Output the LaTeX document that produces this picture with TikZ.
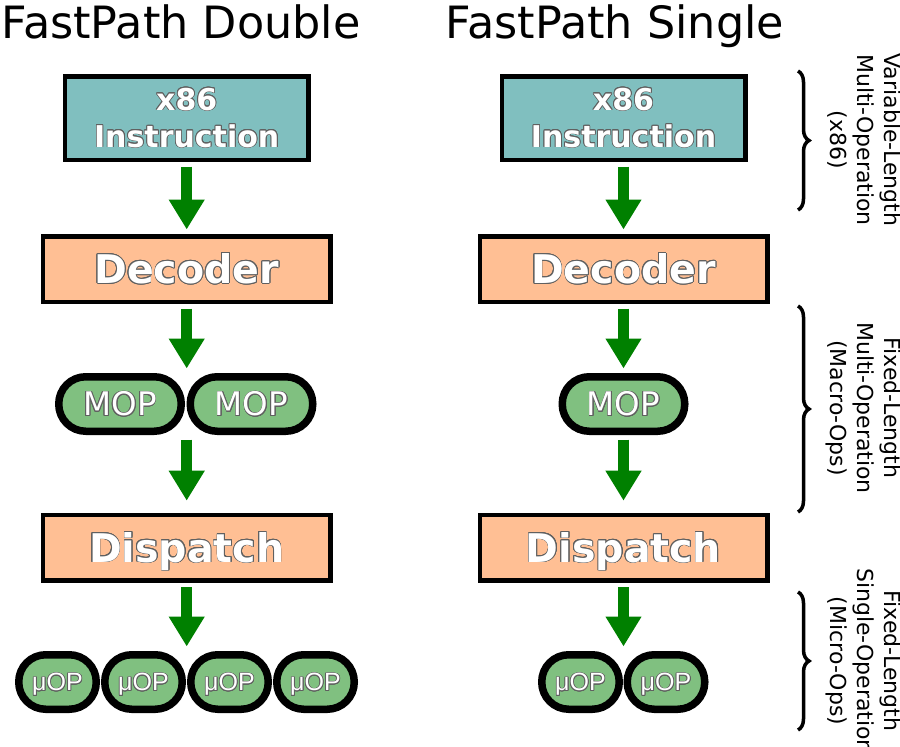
\documentclass[tikz,border=0pt]{standalone}
\usepackage{fontspec}
\setmainfont{DejaVu Sans}
\newfontfamily\libsans{Liberation Sans}
\usepackage[copies]{contour}
\contourlength{0.8pt}
\usetikzlibrary{arrows.meta,decorations.pathreplacing}
\definecolor{tealfill}{HTML}{80BFBF}
\definecolor{peachfill}{HTML}{FFBF94}
\definecolor{mopgreen}{HTML}{80C080}
\definecolor{arrgreen}{HTML}{008000}
\definecolor{outlinegray}{HTML}{606060}
\newcommand{\outl}[1]{\contour{outlinegray}{#1}}
\begin{document}
\begin{tikzpicture}[x=1pt,y=-1pt,
  instbox/.style={draw=black,line width=4.5pt,fill=tealfill,minimum width=243.5pt,minimum height=83.5pt,inner sep=0pt,text=white,font=\bfseries\fontsize{30}{37}\selectfont,align=center},
  stagebox/.style={draw=black,line width=4.5pt,fill=peachfill,minimum width=287.5pt,minimum height=65.5pt,inner sep=0pt,text=white,font=\bfseries\fontsize{39.5}{46}\selectfont,text height=28.8pt,text depth=0pt},
  mopbox/.style={draw=black,line width=7.5pt,fill=mopgreen,rounded corners=27pt,minimum width=122.5pt,minimum height=54.5pt,inner sep=0pt,text=white,font=\fontsize{32.5}{38}\selectfont,text height=23.7pt,text depth=0pt},
  uopbox/.style={draw=black,line width=7.5pt,fill=mopgreen,rounded corners=27pt,minimum width=77.5pt,minimum height=54.5pt,inner sep=0pt,text=white,font=\libsans\fontsize{25}{30}\selectfont,text height=17.9pt,text depth=0pt},
  flow/.style={draw=arrgreen,line width=11pt,-{Triangle[width=34pt,length=30pt]},shorten <=4.5pt,shorten >=4.5pt},
  title/.style={font=\fontsize{44.5}{52}\selectfont,anchor=base,inner sep=0pt},
  sidelabel/.style={font=\fontsize{22}{27}\selectfont,align=center,rotate=-90,inner sep=0pt},
  sidebrace/.style={draw=black,line width=3.5pt,decorate,decoration={brace,amplitude=11pt}}
]
\useasboundingbox (0,0) rectangle (900,747);

% titles
\node[title] (tL) at (181,38) {FastPath Double};
\node[title] (tR) at (615,38) {FastPath Single};

% left column
\node[instbox] (instL) at (186.7,118) {\outl{x86}\\\outl{Instruction}};
\node[stagebox] (decL) at (186.7,269) {\outl{Decoder}};
\node[mopbox] (mopL1) at (120,404) {\outl{MOP}};
\node[mopbox] (mopL2) at (251.5,404) {\outl{MOP}};
\node[stagebox] (dspL) at (186.7,547.7) {\outl{Dispatch}};
\node[uopbox] (uL1) at (57.5,682) {\outl{μOP}};
\node[uopbox] (uL2) at (143.5,682) {\outl{μOP}};
\node[uopbox] (uL3) at (229.5,682) {\outl{μOP}};
\node[uopbox] (uL4) at (315.5,682) {\outl{μOP}};

% right column
\node[instbox] (instR) at (623.5,118) {\outl{x86}\\\outl{Instruction}};
\node[stagebox] (decR) at (623.5,269) {\outl{Decoder}};
\node[mopbox] (mopR) at (623.5,404) {\outl{MOP}};
\node[stagebox] (dspR) at (623.5,547.7) {\outl{Dispatch}};
\node[uopbox] (uR1) at (580.5,682) {\outl{μOP}};
\node[uopbox] (uR2) at (666,682) {\outl{μOP}};

% arrows left
\draw[flow] (instL.south) -- (decL.north);
\draw[flow] (decL.south) -- (decL.south |- mopL1.north);
\draw[flow,shorten >=12pt] (dspL.north |- mopL1.south) -- (dspL.north);
\draw[flow] (dspL.south) -- (dspL.south |- uL2.north);

% arrows right
\draw[flow] (instR.south) -- (decR.north);
\draw[flow] (decR.south) -- (mopR.north);
\draw[flow,shorten >=12pt] (mopR.south) -- (dspR.north);
\draw[flow] (dspR.south) -- (dspR.south |- uR1.north);

% braces
\coordinate (b1t) at (798,71);
\coordinate (b1b) at (798,210);
\coordinate (b2t) at (798,306);
\coordinate (b2b) at (798,512);
\coordinate (b3t) at (798,592);
\coordinate (b3b) at (798,730);
\draw[sidebrace] (b1t) -- (b1b);
\draw[sidebrace] (b2t) -- (b2b);
\draw[sidebrace] (b3t) -- (b3b);

% side labels
\node[sidelabel] (lab1) at (864,140) {Variable-Length\\Multi-Operation\\(x86)};
\node[sidelabel] (lab2) at (864,408) {Fixed-Length\\Multi-Operation\\(Macro-Ops)};
\node[sidelabel] (lab3) at (864,661) {Fixed-Length\\Single-Operation\\(Micro-Ops)};
\end{tikzpicture}
\end{document}
